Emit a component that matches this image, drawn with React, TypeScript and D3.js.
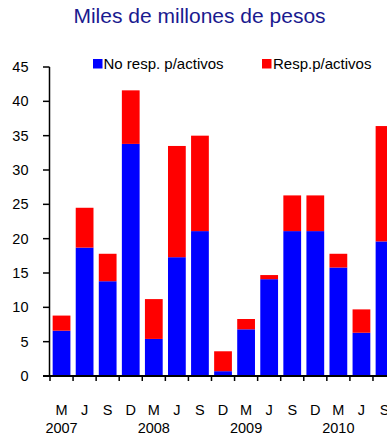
import React from "react";
import * as d3 from "d3";

// Quarterly periods (month initial) and the year shown under each March
const months = ["M", "J", "S", "D", "M", "J", "S", "D", "M", "J", "S", "D", "M", "J", "S"];
const years = ["2007", "", "", "", "2008", "", "", "", "2009", "", "", "", "2010", "", ""];

// Billions of pesos
const noRespActivos = [6.6, 18.7, 13.8, 33.8, 5.4, 17.3, 21.1, 0.7, 6.8, 14.1, 21.1, 21.1, 15.8, 6.3, 19.6];
const respActivos = [2.2, 5.8, 4.0, 7.8, 5.8, 16.2, 13.9, 2.9, 1.5, 0.6, 5.2, 5.2, 2.0, 3.4, 16.8];

const yTicks = [0, 5, 10, 15, 20, 25, 30, 35, 40, 45];

const seriesNames = ["No resp. p/activos", "Resp.p/activos"];
const seriesColors = ["#0000ff", "#ff0000"];

const W = 387;
const H = 436;
const FONT = "'Liberation Sans', Arial, sans-serif";

export default function App() {
  const idx = months.map((_, i) => i);
  const x = d3
    .scaleBand<number>()
    .domain(idx)
    .range([50, 50 + 15 * 23.07])
    .paddingInner(0.23)
    .paddingOuter(0.115);
  const y = d3.scaleLinear().domain([0, 45]).range([376, 67]);

  const rows = idx.map((i) => ({ i, a: noRespActivos[i], b: respActivos[i] }));
  const stack = d3.stack<{ i: number; a: number; b: number }>().keys(["a", "b"]);
  const layers = stack(rows as any);

  const half = (x.step() - x.bandwidth()) / 2;
  const boundaries = idx.map((i) => (x(i) as number) - half);
  const axisX = 49.5;
  const axisY = y(0);

  return (
    <svg
      width={W}
      height={H}
      style={{ position: "absolute", left: 0, top: 0, background: "#fff" }}
      fontFamily={FONT}
    >
      <text x={199.5} y={22.5} textAnchor="middle" fontSize={21} fill="#1a1a8f">
        Miles de millones de pesos
      </text>

      {/* legend */}
      <g>
        <rect x={93} y={59} width={9.5} height={9.5} fill={seriesColors[0]} />
        <text x={103.5} y={69} fontSize={15} fill="#000">
          {seriesNames[0]}
        </text>
        <rect x={262} y={59} width={9.5} height={9.5} fill={seriesColors[1]} />
        <text x={273} y={69} fontSize={15} fill="#000">
          {seriesNames[1]}
        </text>
      </g>

      {/* stacked bars */}
      {layers.map((layer, li) => (
        <g key={li} fill={seriesColors[li]}>
          {layer.map((d, i) => (
            <rect
              key={i}
              x={x(i)}
              width={x.bandwidth()}
              y={y(d[1])}
              height={y(d[0]) - y(d[1])}
            />
          ))}
        </g>
      ))}

      {/* y axis */}
      <line x1={axisX} x2={axisX} y1={y(45)} y2={axisY} stroke="#000" strokeWidth={1.5} />
      {yTicks.map((t) => (
        <g key={t}>
          <line x1={43} x2={axisX} y1={y(t)} y2={y(t)} stroke="#000" strokeWidth={1.5} />
          <text x={28.5} y={y(t) + 5} textAnchor="end" fontSize={14.5} fill="#000">
            {t}
          </text>
        </g>
      ))}

      {/* x axis */}
      <line x1={43} x2={W} y1={axisY} y2={axisY} stroke="#000" strokeWidth={2} />
      {boundaries.map((bx, i) => (
        <line key={i} x1={bx} x2={bx} y1={axisY} y2={axisY + 5} stroke="#000" strokeWidth={1.5} />
      ))}
      {months.map((m, i) => (
        <text
          key={i}
          x={(x(i) as number) + x.bandwidth() / 2}
          y={415}
          textAnchor="middle"
          fontSize={14.5}
          fill="#000"
        >
          {m}
        </text>
      ))}
      {years.map((yr, i) =>
        yr ? (
          <text
            key={i}
            x={(x(i) as number) + x.bandwidth() / 2}
            y={433}
            textAnchor="middle"
            fontSize={14.5}
            fill="#000"
          >
            {yr}
          </text>
        ) : null
      )}
    </svg>
  );
}
